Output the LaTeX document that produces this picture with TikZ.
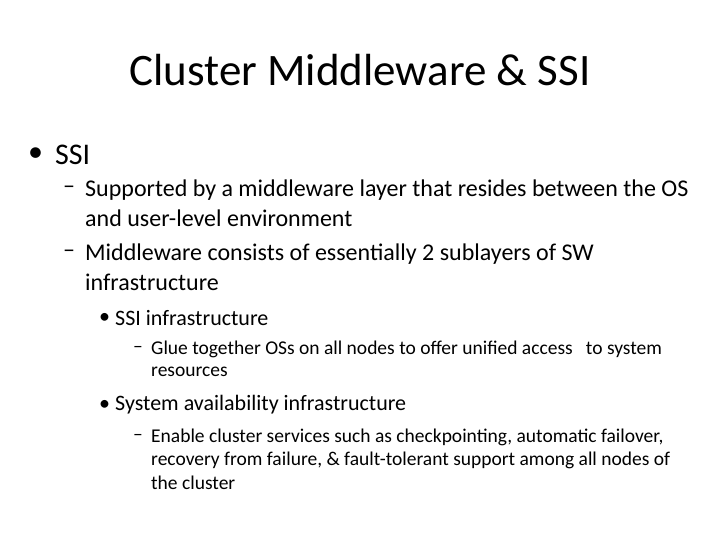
\documentclass[tikz,border=0pt]{standalone}
\usepackage{fontspec}
\setmainfont{Carlito}
\begin{document}
\begin{tikzpicture}[x=1pt,y=-1pt,
 t/.style={anchor=west,inner sep=0pt,text=black},
 la/.style={t,font=\fontsize{30}{34}\selectfont},
 lb/.style={t,font=\fontsize{24}{28}\selectfont},
 lc/.style={t,font=\fontsize{22}{26}\selectfont},
 ld/.style={t,font=\fontsize{19.5}{23}\selectfont}]
\useasboundingbox (0,0) rectangle (720,540);
\node[t,anchor=center,font=\fontsize{45}{50}\selectfont] (title) at (360,70) {Cluster Middleware \& SSI};
\node[la] (b1) at (28,155) {•};
\node[la] (s1) at (55,155) {SSI};
\node[lb] (d1) at (63,190) {–};
\node[lb] (s2) at (85,190) {Supported by a middleware layer that resides between the OS};
\node[lb] (s2b) at (85,218) {and user-level environment};
\node[lb] (d2) at (63,254) {–};
\node[lb] (s3) at (85,254) {Middleware consists of essentially 2 sublayers of SW};
\node[lb] (s3b) at (85,282) {infrastructure};
\node[lc] (b3) at (99,318) {•};
\node[lc] (s4) at (115,318) {SSI infrastructure};
\node[ld] (d4) at (133,349) {–};
\node[ld] (s5) at (151,349) {Glue together OSs on all nodes to offer unified access\ \ \ to system};
\node[ld] (s5b) at (151,372) {resources};
\node[lc] (b5) at (99,405) {•};
\node[lc] (s6) at (115,405) {System availability infrastructure};
\node[ld] (d6) at (133,437) {–};
\node[ld] (s7) at (151,437) {Enable cluster services such as checkpointing, automatic failover,};
\node[ld] (s7b) at (151,460) {recovery from failure, \& fault-tolerant support among all nodes of};
\node[ld] (s7c) at (151,483) {the cluster};
\end{tikzpicture}
\end{document}
